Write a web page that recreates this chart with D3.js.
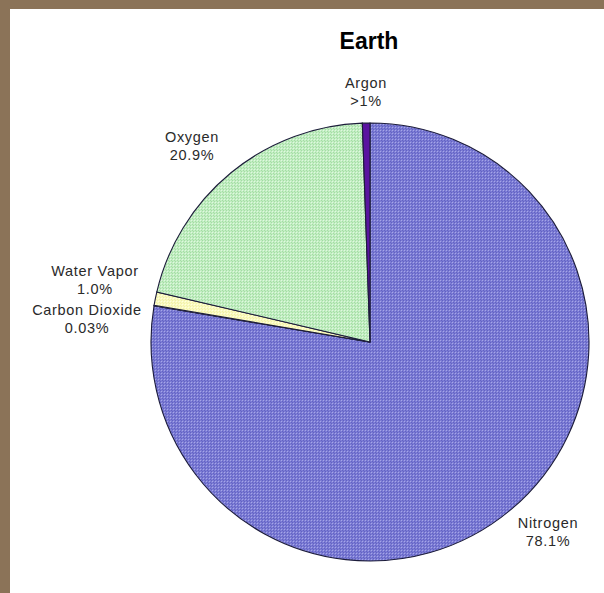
<!DOCTYPE html>
<html>
<head>
<meta charset="utf-8">
<script src="https://cdn.jsdelivr.net/npm/d3@7"></script>
<style>
  html, body { margin: 0; padding: 0; background: #ffffff; }
  svg { display: block; }
  text { font-family: "Liberation Sans", Arial, sans-serif; }
</style>
</head>
<body>
<svg id="chart" width="604" height="593"></svg>
<script>
// Composition of Earth's atmosphere, drawn clockwise from 12 o'clock
const gases = ["Nitrogen", "Carbon Dioxide", "Water Vapor", "Oxygen", "Argon"];
const percents = [78.1, 0.03, 1.0, 20.9, 0.56];
const valueLabels = ["78.1%", "0.03%", "1.0%", "20.9%", ">1%"];
const fills = ["#7c7cd4", "#c8c8f0", "#fafac0", "#c2eec2", "#5a14a0"];

const svg = d3.select("#chart");
const W = 604, H = 593;

// page background and frame
svg.append("rect").attr("width", W).attr("height", H).attr("fill", "#8b7358");
svg.append("rect").attr("x", 10).attr("y", 9).attr("width", W - 10).attr("height", H - 9).attr("fill", "#ffffff");

// dithered fills
const defs = svg.append("defs");
function dither(id, base, dot, light) {
  const p = defs.append("pattern").attr("id", id)
    .attr("patternUnits", "userSpaceOnUse").attr("width", 3).attr("height", 3);
  p.append("rect").attr("width", 3).attr("height", 3).attr("fill", base);
  p.append("rect").attr("x", 0).attr("y", 0).attr("width", 1).attr("height", 1).attr("fill", dot);
  p.append("rect").attr("x", 1).attr("y", 1).attr("width", 1).attr("height", 1).attr("fill", light);
  p.append("rect").attr("x", 2).attr("y", 2).attr("width", 1).attr("height", 1).attr("fill", dot);
  return `url(#${id})`;
}
const patternFills = [
  dither("nitro", fills[0], "#6262c4", "#a6a6e8"),
  fills[1],
  dither("water", fills[2], "#f0f0a8", "#ffffe0"),
  dither("oxy", fills[3], "#a4dca4", "#e0f8e0"),
  fills[4]
];

const cx = 370, cy = 342, r = 219;

const pie = d3.pie().sort(null).value(d => d)(percents);
const arc = d3.arc().innerRadius(0).outerRadius(r);

const g = svg.append("g").attr("transform", `translate(${cx},${cy})`);
g.selectAll("path.slice")
  .data(pie)
  .join("path")
  .attr("class", "slice")
  .attr("d", arc)
  .attr("fill", (d, i) => patternFills[i])
  .attr("stroke", "#1c1c3a")
  .attr("stroke-width", 1.1)
  .attr("stroke-linejoin", "miter");

// title
svg.append("text")
  .attr("x", 369).attr("y", 49)
  .attr("text-anchor", "middle")
  .attr("font-size", 23).attr("font-weight", "bold")
  .attr("fill", "#000")
  .text("Earth");

// slice labels (name on the first line, value below)
const labelPos = [
  { x: 548, y: 528 },  // Nitrogen
  { x: 87, y: 315 },   // Carbon Dioxide
  { x: 95, y: 276 },   // Water Vapor
  { x: 192, y: 142 },  // Oxygen
  { x: 366, y: 88 }    // Argon
];
const labels = svg.append("g").attr("fill", "#2a2a2a")
  .attr("font-size", 14.5).attr("letter-spacing", 0.7);
gases.forEach((name, i) => {
  const t = labels.append("text")
    .attr("x", labelPos[i].x).attr("y", labelPos[i].y)
    .attr("text-anchor", "middle");
  t.append("tspan").attr("x", labelPos[i].x).text(name);
  t.append("tspan").attr("x", labelPos[i].x).attr("dy", 18).text(valueLabels[i]);
});
</script>
</body>
</html>
